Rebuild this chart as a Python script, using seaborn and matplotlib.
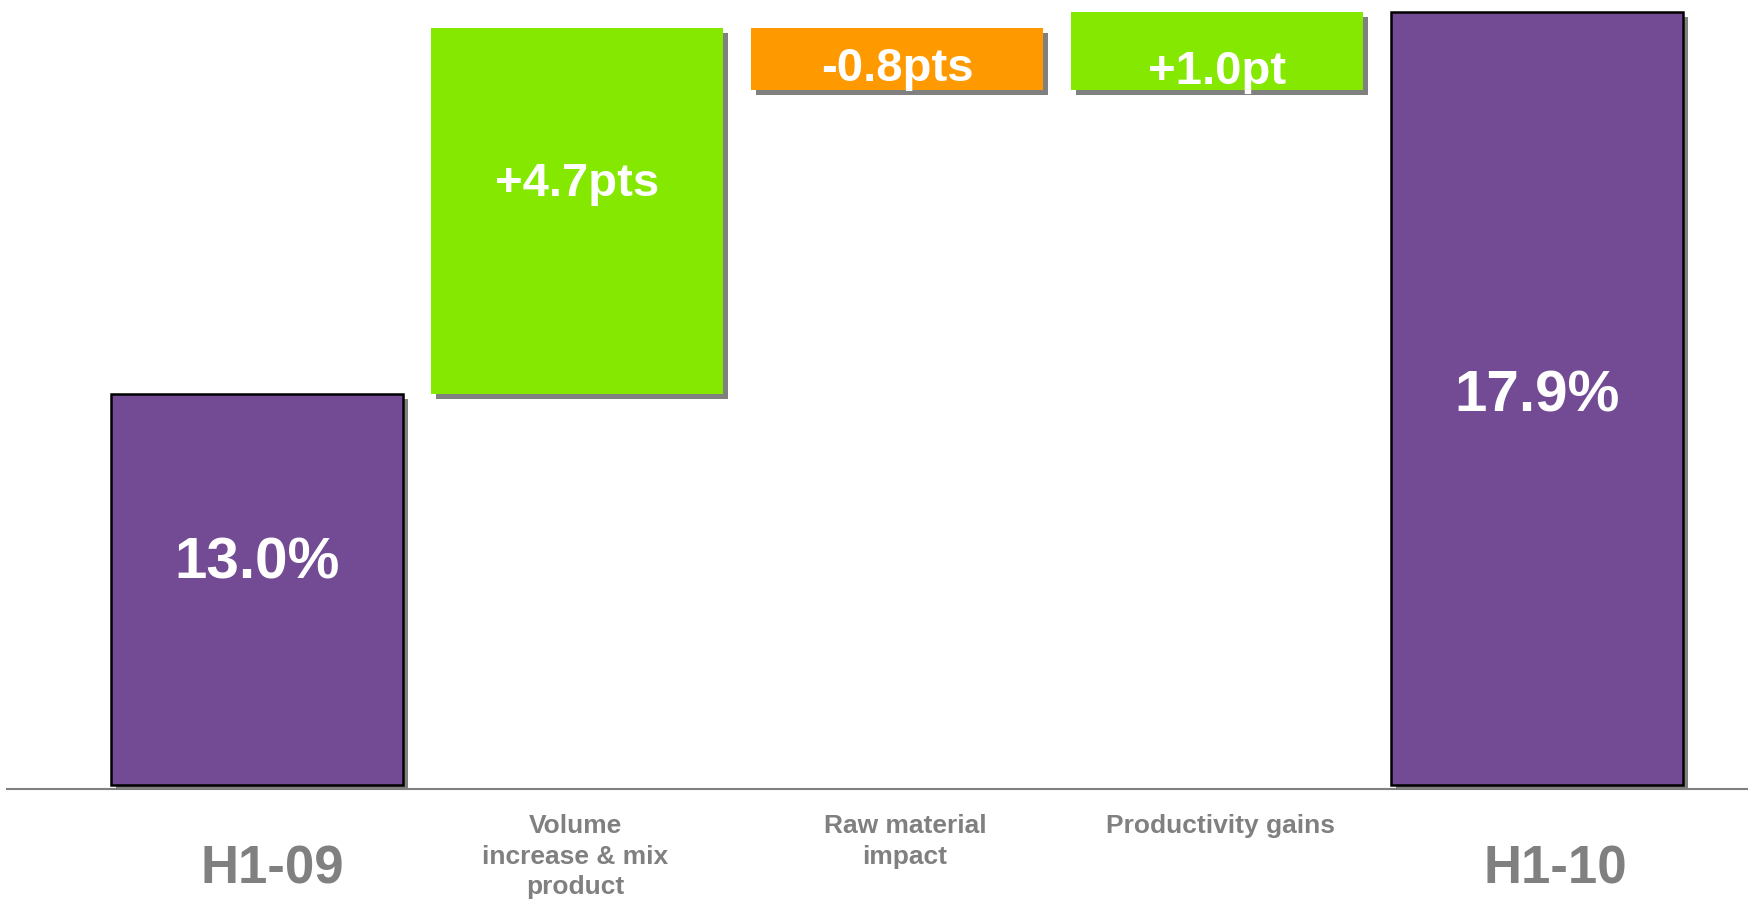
import numpy as np
import matplotlib
matplotlib.use("Agg")
import matplotlib.pyplot as plt
import matplotlib.patheffects as pe
import seaborn as sns

# ---- data -------------------------------------------------------------
categories = ["H1-09", "Volume\nincrease & mix\nproduct", "Raw material\nimpact",
              "Productivity gains", "H1-10"]
start_value = 13.0          # operating margin H1-09 (%)
bridge_steps = [4.7, -0.8, 1.0]   # contributions (pts)
end_value = 17.9            # operating margin H1-10 (%)
value_labels = ["13.0%", "+4.7pts", "-0.8pts", "+1.0pt", "17.9%"]

# ---- waterfall geometry from the values ------------------------------
running = np.cumsum([start_value] + bridge_steps)
bottoms = [0.0] + list(running[:-1]) + [0.0]
spans = [start_value] + bridge_steps + [end_value]

PURPLE, GREEN, ORANGE, GREY = "#734B94", "#84E800", "#FF9900", "#808080"
bar_colors = [PURPLE] + [GREEN if s > 0 else ORANGE for s in bridge_steps] + [PURPLE]

# broken-style value axis: 0-13 compressed, upper range expanded
LOW_RATE, HIGH_RATE, SPLIT = 30.04, 78.0, 13.0


def fwd(v):
    v = np.asarray(v, dtype=float)
    return np.where(v <= SPLIT, v * LOW_RATE, SPLIT * LOW_RATE + (v - SPLIT) * HIGH_RATE)


def inv(u):
    u = np.asarray(u, dtype=float)
    edge = SPLIT * LOW_RATE
    return np.where(u <= edge, u / LOW_RATE, SPLIT + (u - edge) / HIGH_RATE)


sns.set_theme(style="white")
plt.rcParams["font.family"] = ["Liberation Sans", "DejaVu Sans"]
plt.rcParams["font.weight"] = "bold"

W, H = 1749, 903
fig = plt.figure(figsize=(W / 100, H / 100), dpi=100)
ax = fig.add_axes([7 / W, 1 - 790 / H, (W - 7) / W, 790 / H])

sns.barplot(x=list(range(len(categories))), y=spans, hue=list(range(len(categories))),
            palette=bar_colors, width=0.91, saturation=1, legend=False, ax=ax)

shadow = [pe.SimplePatchShadow(offset=(3.6, -3.6), shadow_rgbFace=GREY, alpha=1.0),
          pe.Normal()]
for i, patch in enumerate(ax.patches[:len(spans)]):
    patch.set_y(bottoms[i])
    patch.set_height(spans[i])
    patch.set_path_effects(shadow)
    if bar_colors[i] == PURPLE:
        patch.set_edgecolor("black")
        patch.set_linewidth(1.8)
    else:
        patch.set_linewidth(0)

ax.set_yscale("function", functions=(fwd, inv))
ax.set_ylim(float(inv(-4.0)), float(inv(790.0 - 4.0)))
ax.set_xlim(-0.781, 4.6625)

# value labels inside the bars
label_frac = [0.585, 0.59, 0.56, 0.31, 0.73]
label_size = [42, 34, 34, 34, 42]
for i, txt in enumerate(value_labels):
    y = bottoms[i] + spans[i] * label_frac[i]
    ax.text(i, y, txt, ha="center", va="center_baseline", color="white",
            fontsize=label_size[i], fontweight="bold")

# category labels under the axis
xt = ax.get_xaxis_transform()
x_shift = [0.047, -0.006, 0.025, 0.012, 0.056]
for i, cat in enumerate(categories):
    if cat.startswith("H1"):
        ax.text(i + x_shift[i], -0.0937, cat, transform=xt, ha="center",
                va="center_baseline", color=GREY, fontsize=38, fontweight="bold")
    else:
        ax.text(i + x_shift[i], -0.0304, cat, transform=xt, ha="center", va="top",
                color=GREY, fontsize=19, fontweight="bold", linespacing=1.35,
                multialignment="center")

ax.set_xticks([])
ax.set_yticks([])
for side in ("top", "right", "left"):
    ax.spines[side].set_visible(False)
ax.spines["bottom"].set_color(GREY)
ax.spines["bottom"].set_linewidth(1.5)
ax.set_facecolor("none")
fig.patch.set_facecolor("white")

fig.savefig("out.png", dpi=100, facecolor="white")
